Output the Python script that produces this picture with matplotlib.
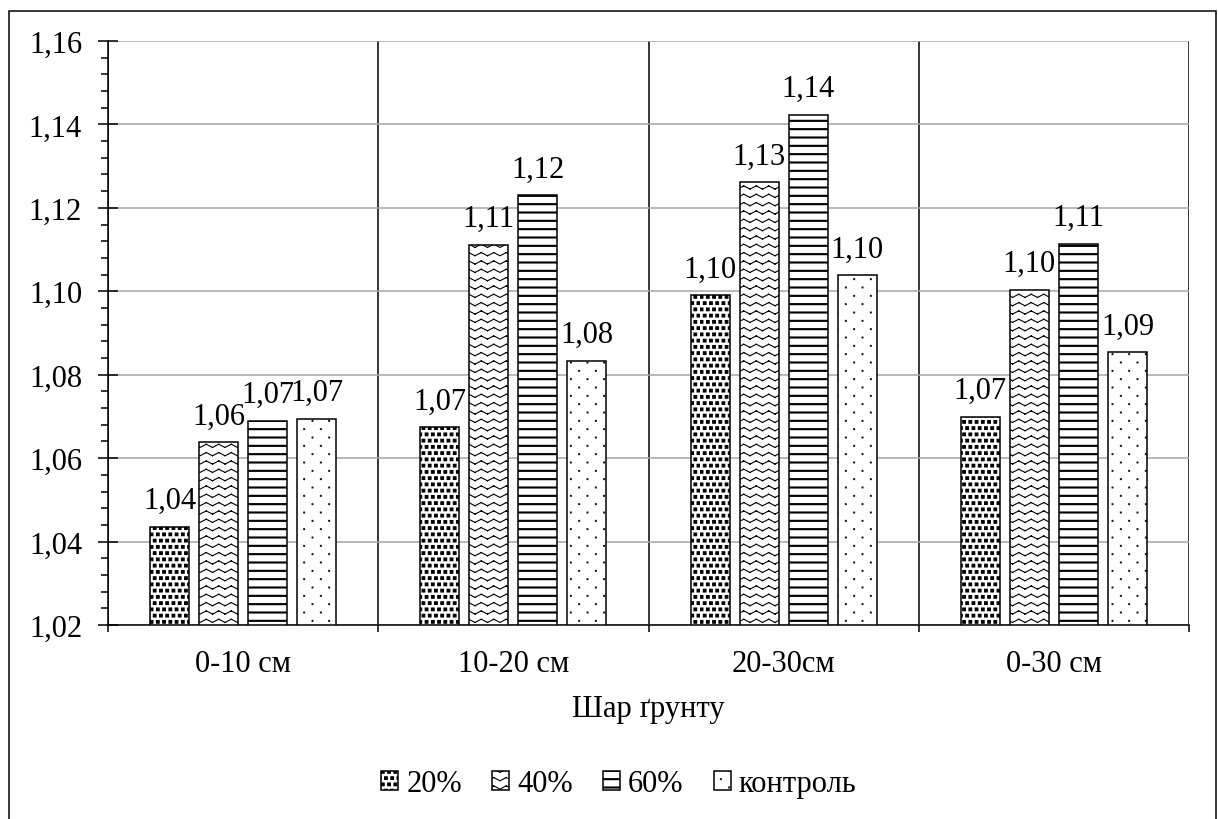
import warnings
warnings.simplefilter("ignore")
import numpy as np
import matplotlib
matplotlib.use("Agg")
import matplotlib.pyplot as plt
import matplotlib.hatch as mhatch
from matplotlib.path import Path
from matplotlib.patches import Rectangle
from matplotlib.ticker import MultipleLocator, FuncFormatter, FixedLocator

# ---------------- data ----------------
categories = ["0-10 см", "10-20 см", "20-30см", "0-30 см"]
series_names = ["20%", "40%", "60%", "контроль"]
p20 = [1.0436, 1.0674, 1.0990, 1.0699]
p40 = [1.0638, 1.1112, 1.1261, 1.1003]
p60 = [1.0690, 1.1230, 1.1423, 1.1114]
control = [1.0694, 1.0834, 1.1038, 1.0854]
x_label = "Шар ґрунту"
y_min, y_max, y_step = 1.02, 1.16, 0.02


# ---------------- custom hatch patterns ----------------
def _square(vertices, codes, cx, cy, half):
    vertices[:] = [[cx - half, cy - half], [cx + half, cy - half],
                   [cx + half, cy + half], [cx - half, cy + half],
                   [cx - half, cy - half]]
    codes[:] = [Path.MOVETO, Path.LINETO, Path.LINETO, Path.LINETO, Path.CLOSEPOLY]


class SquareStipple(mhatch.HatchPatternBase):
    """dense staggered black squares (char 'q')"""
    def __init__(self, hatch, density):
        self.n = 16 if 'q' in hatch else 0
        self.num_vertices = self.n * self.n * 5

    def set_vertices_and_codes(self, vertices, codes):
        n = self.n
        k = 0
        for j in range(n):
            for i in range(n):
                off = 0.25 if j % 2 == 0 else 0.75
                cx = (i + off) / n
                cy = (j + 0.5) / n
                _square(vertices[k:k + 5], codes[k:k + 5], cx, cy, 0.0135)
                k += 5


class ZigZag(mhatch.HatchPatternBase):
    """horizontal zig-zag waves (char 'w')"""
    def __init__(self, hatch, density):
        self.rows = 12 if 'w' in hatch else 0
        self.periods = 8
        self.num_vertices = self.rows * self.periods * 2 * 2

    def set_vertices_and_codes(self, vertices, codes):
        k = 0
        amp = 0.016
        for j in range(self.rows):
            y = (j + 0.5) / self.rows
            for p in range(self.periods):
                x0 = p / self.periods
                xm = (p + 0.5) / self.periods
                x1 = (p + 1) / self.periods
                vertices[k] = [x0, y - amp]; codes[k] = Path.MOVETO
                vertices[k + 1] = [xm, y + amp]; codes[k + 1] = Path.LINETO
                vertices[k + 2] = [xm, y + amp]; codes[k + 2] = Path.MOVETO
                vertices[k + 3] = [x1, y - amp]; codes[k + 3] = Path.LINETO
                k += 4


class ThickHorizontal(mhatch.HatchPatternBase):
    """thick horizontal lines (char 'h')"""
    def __init__(self, hatch, density):
        self.rows = 12 if 'h' in hatch else 0
        self.num_vertices = self.rows * 5

    def set_vertices_and_codes(self, vertices, codes):
        k = 0
        t = 0.005
        for j in range(self.rows):
            y = (j + 0.5) / self.rows
            vertices[k:k + 5] = [[0, y - t], [1, y - t], [1, y + t], [0, y + t], [0, y - t]]
            codes[k:k + 5] = [Path.MOVETO, Path.LINETO, Path.LINETO, Path.LINETO, Path.CLOSEPOLY]
            k += 5


class SparseDots(mhatch.HatchPatternBase):
    """sparse staggered small dots (char 'd')"""
    def __init__(self, hatch, density):
        self.rows = 12 if 'd' in hatch else 0
        self.cols = 6
        self.num_vertices = self.rows * self.cols * 5

    def set_vertices_and_codes(self, vertices, codes):
        k = 0
        for j in range(self.rows):
            off = 0.25 if j % 2 == 0 else 0.75
            for i in range(self.cols):
                cx = (i + off) / self.cols
                cy = (j + 0.5) / self.rows
                _square(vertices[k:k + 5], codes[k:k + 5], cx, cy, 0.004)
                k += 5


mhatch._hatch_types.extend([SquareStipple, ZigZag, ThickHorizontal, SparseDots])

# ---------------- figure ----------------
plt.rcParams['font.family'] = ['Liberation Serif', 'DejaVu Serif']
plt.rcParams['hatch.linewidth'] = 0.8

fig = plt.figure(figsize=(12.18, 8.2), dpi=100)
ax = fig.add_axes([108 / 1218, 1 - 626 / 820, (1189 - 108) / 1218, (626 - 42) / 820])

x = np.arange(len(categories))
step = 0.1815
width = 0.1444
series = [p20, p40, p60, control]
hatches = ['q', 'w', 'h', 'd']
offsets = [-1.5, -0.5, 0.5, 1.5]

fs = 22
for vals, name, h, off in zip(series, series_names, hatches, offsets):
    bars = ax.bar(x + off * step, vals, width, color='white', edgecolor='black',
                  linewidth=1.1, hatch=h, label=name, zorder=3)
    for b, v in zip(bars, vals):
        ax.annotate(f"{v:.2f}".replace('.', ','),
                    (b.get_x() + b.get_width() / 2, v),
                    xytext=(0, 13.5), textcoords='offset points',
                    ha='center', va='baseline', fontsize=fs, zorder=4)

ax.set_ylim(y_min, y_max)
ax.set_xlim(-0.5, len(categories) - 0.5)

ax.yaxis.set_major_locator(MultipleLocator(y_step))
ax.yaxis.set_minor_locator(MultipleLocator(y_step / 5))
ax.yaxis.set_major_formatter(FuncFormatter(lambda v, p: f"{v:.2f}".replace('.', ',')))

ax.xaxis.set_major_locator(FixedLocator(np.arange(len(categories) + 1) - 0.5))
ax.xaxis.set_minor_locator(FixedLocator(x))
ax.xaxis.set_major_formatter(FuncFormatter(lambda v, p: ""))
ax.xaxis.set_minor_formatter(FuncFormatter(lambda v, p: categories[int(round(v))]
                                           if 0 <= int(round(v)) < len(categories) else ""))

ax.tick_params(axis='y', which='major', direction='inout', length=14.4, width=1.1,
               pad=11.5, labelsize=fs, color='black')
ax.tick_params(axis='y', which='minor', direction='out', length=5, width=1.1, color='black')
ax.tick_params(axis='x', which='major', direction='out', length=5, width=1.1, color='black')
ax.tick_params(axis='x', which='minor', length=0, pad=17.3, labelsize=fs)

ax.grid(axis='y', which='major', color='#A6A6A6', linewidth=1.1, zorder=0)
ax.grid(axis='x', which='major', color='black', linewidth=1.1, zorder=1)
ax.set_axisbelow(True)

for s in ['top', 'right']:
    ax.spines[s].set_visible(False)
for s in ['left', 'bottom']:
    ax.spines[s].set_linewidth(1.1)
    ax.spines[s].set_zorder(5)

ax.set_xlabel(x_label, fontsize=fs, labelpad=11.5)

fig.legend(loc='center', bbox_to_anchor=(619 / 1218, 1 - 785 / 820), ncol=4,
           frameon=False, fontsize=fs, handlelength=0.55, handleheight=0.55,
           handletextpad=0.26, columnspacing=1.0, borderaxespad=0)

# outer chart frame
fig.add_artist(Rectangle((9 / 1218, -0.02), (1216 - 9) / 1218, (1 - 12 / 820) + 0.02,
                         transform=fig.transFigure, fill=False, edgecolor='black',
                         linewidth=1.1, clip_on=False))

fig.savefig("out.png", dpi=100)
